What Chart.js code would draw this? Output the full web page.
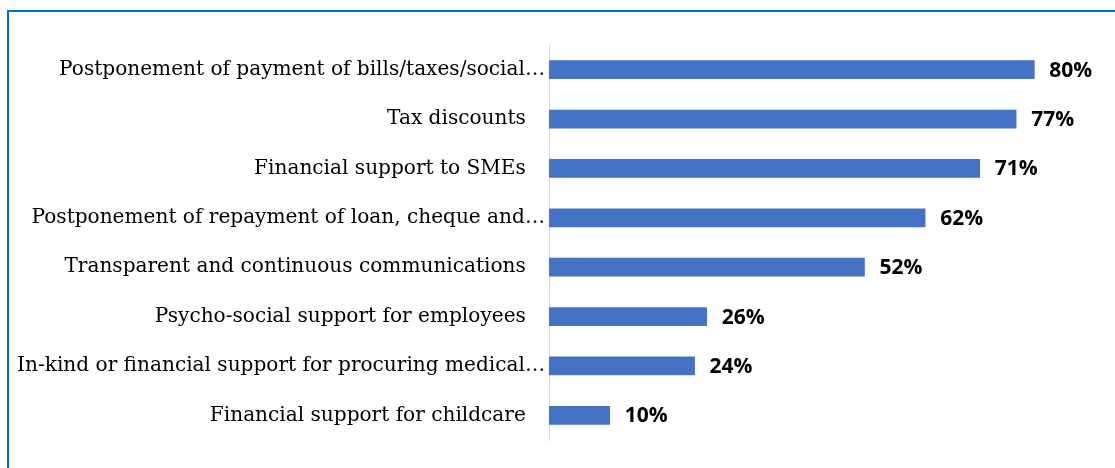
<!DOCTYPE html>
<html>
<head>
<meta charset="utf-8">
<script src="https://cdn.jsdelivr.net/npm/chart.js@4.4.0/dist/chart.umd.min.js"></script>
<style>
  html, body { margin: 0; padding: 0; background: #fff; overflow: hidden; }
  .frame {
    position: absolute; left: 7px; top: 10px; width: 1200px; height: 600px;
    border-top: 2px solid #0070C0; border-left: 2.5px solid #0070C0;
  }
  .wrap { position: absolute; left: 0; top: 0; width: 1115px; height: 468px; }
</style>
</head>
<body>
<div class="frame"></div>
<div class="wrap"><canvas id="chart"></canvas></div>
<script>
// labels as they appear (Excel pads the untruncated ones)
const categories = [
  'Postponement of payment of bills/taxes/social\u2026',
  'Tax discounts   ',
  'Financial support to SMEs   ',
  'Postponement of repayment of loan, cheque and\u2026',
  'Transparent and continuous communications   ',
  'Psycho-social support for employees   ',
  'In-kind or financial support for procuring medical\u2026',
  'Financial support for childcare   '
];
const shares = [80, 77, 71, 62, 52, 26, 24, 10];

const barLabels = {
  id: 'barLabels',
  afterDatasetsDraw(chart) {
    const ctx = chart.ctx;
    const meta = chart.getDatasetMeta(0);
    ctx.save();
    ctx.font = "bold 21px 'Open Sans', 'Liberation Sans', sans-serif";
    ctx.fillStyle = '#000';
    ctx.textAlign = 'left';
    ctx.textBaseline = 'middle';
    meta.data.forEach((bar, i) => {
      ctx.fillText(shares[i] + '%', bar.x + 15, bar.y + 1);
    });
    ctx.restore();
  }
};

new Chart(document.getElementById('chart'), {
  type: 'bar',
  data: {
    labels: categories,
    datasets: [{
      data: shares,
      backgroundColor: '#4472C4',
      borderWidth: 0,
      barThickness: 18
    }]
  },
  options: {
    indexAxis: 'y',
    responsive: true,
    maintainAspectRatio: false,
    animation: false,
    layout: { padding: { top: 45, bottom: 28, left: 0, right: 20 } },
    plugins: {
      legend: { display: false },
      tooltip: { enabled: false }
    },
    scales: {
      x: {
        display: false,
        min: 0,
        max: 90
      },
      y: {
        afterFit(scale) { scale.width = 549; },
        grid: { display: false, drawTicks: false },
        border: { display: true, color: '#d9d9d9', width: 1 },
        ticks: {
          color: '#000',
          padding: 4,
          autoSkip: false,
          font: { family: "'DejaVu Serif', 'Liberation Serif', serif", size: 20.1 }
        }
      }
    }
  },
  plugins: [barLabels]
});
</script>
</body>
</html>
